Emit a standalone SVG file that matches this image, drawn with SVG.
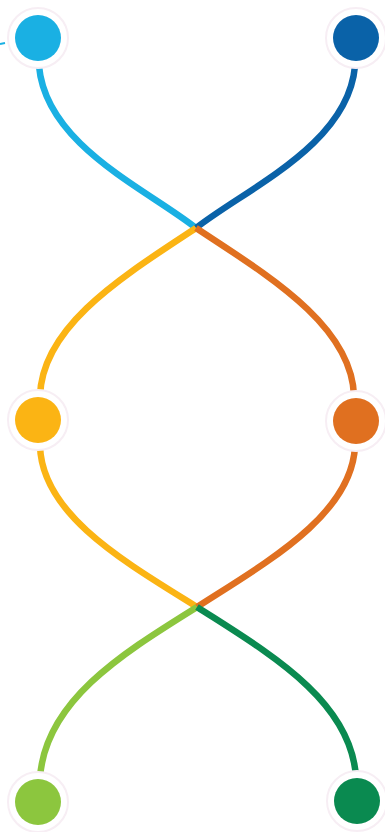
<svg xmlns="http://www.w3.org/2000/svg" width="385" height="832" viewBox="0 0 385 832">
<style>
.s{fill:none;stroke-width:6.5;stroke-linecap:butt}
.ring{fill:#fff;stroke:#f7eef4;stroke-width:2}
</style>
<rect width="385" height="832" fill="#fff"/>
<g id="connectors">
<path class="s" stroke="#1ab0e3" d="M39,66 C46,145 145,188 196,228"/>
<path class="s" stroke="#0a62a8" d="M355,66 C348,145 247,188 196,228"/>
<path class="s" stroke="#fbb414" d="M196,228 C125,275 42,325 40,396"/>
<path class="s" stroke="#e07020" d="M196,228 C267,275 352,325 354,396"/>
<path class="s" stroke="#fbb414" d="M40,446 C42,515 125,562 197,607"/>
<path class="s" stroke="#e07020" d="M355,446 C352,515 267,562 197,607"/>
<path class="s" stroke="#8cc63e" d="M197,607 C125,652 45,700 40,778"/>
<path class="s" stroke="#0a8a50" d="M197,607 C267,652 352,700 356,778"/>
<path stroke="#1ab0e3" stroke-width="2" d="M0,44 L5,43"/>
</g>
<g id="n1"><circle class="ring" cx="38" cy="38" r="30"/><circle cx="38" cy="38" r="23" fill="#1ab0e3"/></g>
<g id="n2"><circle class="ring" cx="356" cy="38" r="30"/><circle cx="356" cy="38" r="23" fill="#0a62a8"/></g>
<g id="n3"><circle class="ring" cx="38" cy="420" r="30"/><circle cx="38" cy="420" r="23" fill="#fbb414"/></g>
<g id="n4"><circle class="ring" cx="356" cy="421" r="30"/><circle cx="356" cy="421" r="23" fill="#e07020"/></g>
<g id="n5"><circle class="ring" cx="38" cy="802" r="30"/><circle cx="38" cy="802" r="23" fill="#8cc63e"/></g>
<g id="n6"><circle class="ring" cx="357" cy="801" r="30"/><circle cx="357" cy="801" r="23" fill="#0a8a50"/></g>
</svg>
